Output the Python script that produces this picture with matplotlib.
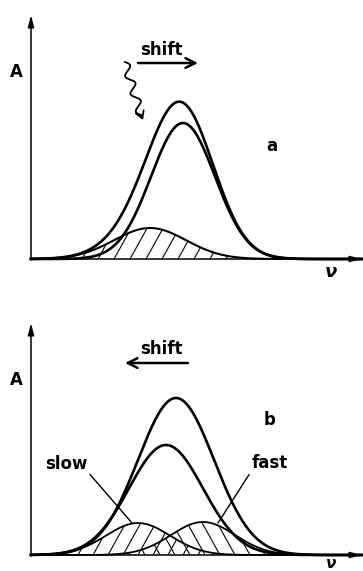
import numpy as np
import matplotlib.pyplot as plt

# frequency axis (arbitrary units, origin at the axis corner)
nu = np.linspace(0, 331, 800)

# panel a: main band and hatched band (the top curve is their sum)
a_center = [152, 119]
a_height = [136, 31]
a_width = [32, 36]

# panel b: total, main, slow, fast
b_center = [145, 135, 107, 172]
b_height = [157, 110, 32, 33]
b_width = [38, 37, 32, 32]


def band(c, h, w):
    return h * np.exp(-(nu - c) ** 2 / (2.0 * w ** 2))


def hatch(ax, y, step, slope, start):
    poly = ax.fill_between(nu, 0, y, facecolor='none', edgecolor='none')
    clip = poly.get_paths()[0]
    top = y.max() + 5
    for x0 in np.arange(start, nu[-1] + 80, step):
        ln, = ax.plot([x0, x0 + top / slope], [0, top], color='k', lw=0.8)
        ln.set_clip_path(clip, ax.transData)


def frame(ax, ytop):
    ax.set_xlim(-31, 332)
    ax.axis('off')
    ap = dict(arrowstyle='-|>,head_length=0.7,head_width=0.18', lw=1.1,
              color='k', shrinkA=0, shrinkB=0)
    ax.annotate('', xy=(0, ytop), xytext=(0, -1), arrowprops=ap)
    ax.annotate('', xy=(331, 0), xytext=(-1, 0), arrowprops=ap)


fs = dict(fontsize=12, fontweight='bold', family='DejaVu Sans',
          ha='center', va='center')

fig = plt.figure(figsize=(3.63, 5.71), dpi=100)

# ---------- panel a ----------
ax = fig.add_axes([0, 286 / 571, 1, 285 / 571])
frame(ax, 244)
ax.set_ylim(-26, 259)

main_a = band(a_center[0], a_height[0], a_width[0])
hat_a = band(a_center[1], a_height[1], a_width[1])
hatch(ax, hat_a, 16, 1.8, 3)
ax.plot(nu, main_a + hat_a, color='k', lw=1.9)
ax.plot(nu, main_a, color='k', lw=1.9)
ax.plot(nu, hat_a, color='k', lw=1.5)

ax.text(-15, 187, 'A', **fs)
ax.text(130, 209, 'shift', **fs)
ax.annotate('', xy=(167, 196), xytext=(107, 196),
            arrowprops=dict(arrowstyle='->,head_length=0.7,head_width=0.35',
                            lw=1.8, color='k', shrinkA=0, shrinkB=0))
ax.text(241, 113, 'a', **fs)
ax.text(300, -13, 'ν', fontsize=13, fontweight='bold', style='italic',
        ha='center', va='center')

# wavy arrow
p0 = np.array([94.0, 197.0])
p1 = np.array([110.0, 144.0])
t = np.linspace(0, 1, 200)
d = p1 - p0
perp = np.array([-d[1], d[0]]) / np.hypot(*d)
wave = p0 + np.outer(t, d) + np.outer(4 * np.sin(2 * np.pi * 3.0 * t), perp)
ax.plot(wave[:, 0], wave[:, 1], color='k', lw=1.3)
ax.annotate('', xy=(112, 139), xytext=(wave[-1, 0], wave[-1, 1]),
            arrowprops=dict(arrowstyle='->,head_length=0.5,head_width=0.3',
                            lw=1.3, color='k', shrinkA=0, shrinkB=0))

# ---------- panel b ----------
ax = fig.add_axes([0, 0, 1, 286 / 571])
frame(ax, 232)
ax.set_ylim(-16, 270)

tot_b, main_b, slow_b, fast_b = [band(c, h, w) for c, h, w in
                                 zip(b_center, b_height, b_width)]
hatch(ax, slow_b, 15, 1.8, 2)
hatch(ax, fast_b, 15, -1.8, 9)
ax.plot(nu, tot_b, color='k', lw=1.9)
ax.plot(nu, main_b, color='k', lw=1.9)
ax.plot(nu, slow_b, color='k', lw=1.3)
ax.plot(nu, fast_b, color='k', lw=1.3)

ax.text(-15, 175, 'A', **fs)
ax.text(130, 206, 'shift', **fs)
ax.annotate('', xy=(94, 192), xytext=(157, 192),
            arrowprops=dict(arrowstyle='->,head_length=0.7,head_width=0.35',
                            lw=1.8, color='k', shrinkA=0, shrinkB=0))
ax.text(239, 135, 'b', **fs)
ax.annotate('slow', xy=(101, 32), xytext=(35, 91),
            arrowprops=dict(arrowstyle='-', lw=1.0, color='k',
                            shrinkA=0, shrinkB=0, relpos=(1.0, 0.1)), **fs)
ax.annotate('fast', xy=(187, 32), xytext=(239, 92),
            arrowprops=dict(arrowstyle='-', lw=1.0, color='k',
                            shrinkA=0, shrinkB=0, relpos=(0.0, 0.1)), **fs)
ax.text(300, -8, 'ν', fontsize=11, fontweight='bold', style='italic',
        ha='center', va='center')

fig.savefig('out.png', dpi=100)
